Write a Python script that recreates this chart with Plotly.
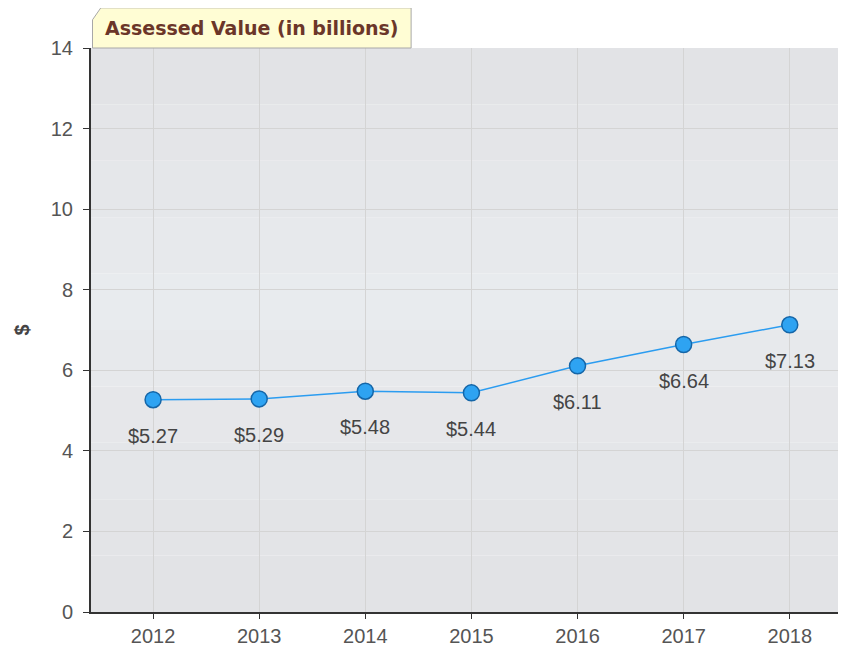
import plotly.graph_objects as go

years = [2012, 2013, 2014, 2015, 2016, 2017, 2018]
values = [5.27, 5.29, 5.48, 5.44, 6.11, 6.64, 7.13]
labels = ["$5.27", "$5.29", "$5.48", "$5.44", "$6.11", "$6.64", "$7.13"]
y_ticks = [0, 2, 4, 6, 8, 10, 12, 14]
title_text = "Assessed Value (in billions)"
y_title = "$"

fig = go.Figure()
fig.add_trace(go.Scatter(
    x=years, y=values, mode="lines+markers",
    line=dict(color="#2b9cf0", width=1.5),
    marker=dict(size=16, color="#2ea3f2", line=dict(color="#1566a8", width=1.5)),
    hoverinfo="skip", showlegend=False,
))

for xv, yv, t in zip(years, values, labels):
    fig.add_annotation(x=xv, y=yv, text=t, showarrow=False, yshift=-36,
                       font=dict(family="Liberation Sans, Arial", size=20, color="#444444"))

# background gradient bands in plot area
bands = [
    (0.0, 0.1, "#e2e3e6"), (0.1, 0.2, "#e3e4e7"), (0.2, 0.3, "#e4e6e9"),
    (0.3, 0.4, "#e6e7ea"), (0.4, 0.5, "#e7e9ec"), (0.5, 0.6, "#e8ebee"),
    (0.6, 0.7, "#e7e9ec"), (0.7, 0.8, "#e5e7ea"), (0.8, 0.9, "#e4e5e8"),
    (0.9, 1.0, "#e2e3e6"),
]
for y0, y1, c in bands:
    fig.add_shape(type="rect", xref="x domain", yref="y domain", x0=0, x1=1, y0=y0, y1=y1,
                  fillcolor=c, line=dict(width=0), layer="below")

# title tab
fig.add_shape(type="path", xref="paper", yref="paper",
              path="M 0.002 1.0 L 0.002 1.05 L 0.013 1.0712 L 0.424 1.0712 L 0.424 1.0 Z",
              fillcolor="#fffdd4", line=dict(color="#a8a8a8", width=1))
fig.add_annotation(xref="paper", yref="paper", x=0.2135, y=1.036, text="<b>" + title_text + "</b>",
                   showarrow=False, xanchor="center", yanchor="middle",
                   font=dict(family="DejaVu Sans", size=19, color="#6b3629"))

fig.update_layout(
    width=838, height=642,
    margin=dict(l=83, r=0, t=40, b=38),
    paper_bgcolor="white", plot_bgcolor="rgba(0,0,0,0)",
    font=dict(family="Liberation Sans, Arial", size=20, color="#555555"),
    xaxis=dict(range=[2011.415, 2018.53], tickmode="array", tickvals=years,
               ticktext=[str(y) for y in years], showgrid=True, gridcolor="#d4d4d4",
               gridwidth=1, showline=True, linecolor="#333333", linewidth=2,
               ticks="outside", ticklen=5, tickcolor="#333333", zeroline=False,
               tickfont=dict(size=20, color="#555555")),
    yaxis=dict(range=[0, 14], tickmode="array", tickvals=y_ticks, showgrid=True,
               gridcolor="#d4d4d4", gridwidth=1, showline=True, linecolor="#333333",
               linewidth=2, ticks="outside", ticklen=6, tickcolor="#333333", zeroline=False,
               ticklabelstandoff=6,
               tickfont=dict(size=20, color="#555555"),
               title=dict(text="<b>" + y_title + "</b>", standoff=16,
                          font=dict(size=20, color="#444444"))),
)

fig.write_html("out.html")
